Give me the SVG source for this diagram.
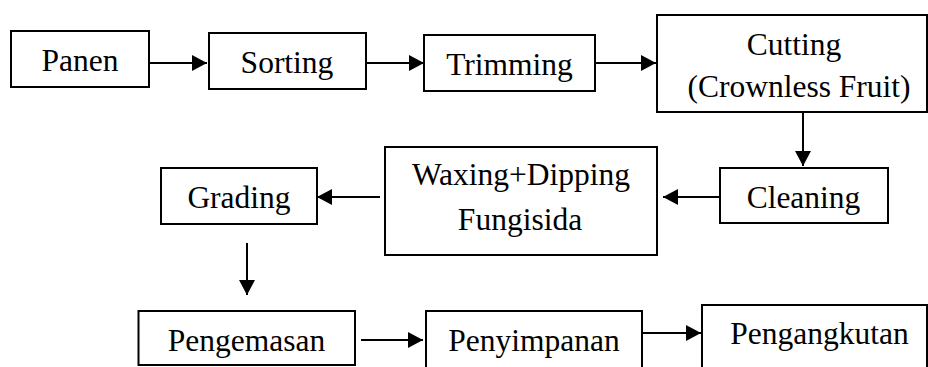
<svg xmlns="http://www.w3.org/2000/svg" width="928" height="367" viewBox="0 0 928 367">
<style>
.box{fill:#fff;stroke:#000;stroke-width:2}
.lbl{font-family:"Liberation Serif","Times New Roman",serif;font-size:31.5px;fill:#000;text-anchor:middle}
.con{stroke:#000;stroke-width:2;fill:none}
</style>
<defs>
<marker id="ah" viewBox="0 0 15 16" refX="15" refY="8" markerWidth="15" markerHeight="16" markerUnits="userSpaceOnUse" orient="auto">
<path d="M0,0 L15,8 L0,16 Z" fill="#000"/>
</marker>
</defs>
<rect width="928" height="367" fill="#fff"/>
<g id="panen"><rect class="box" x="11" y="31" width="138" height="56"/><text class="lbl" x="80" y="71">Panen</text></g>
<g id="sorting"><rect class="box" x="209" y="33" width="157" height="56"/><text class="lbl" x="287" y="73">Sorting</text></g>
<g id="trimming"><rect class="box" x="424" y="35" width="171" height="56"/><text class="lbl" x="509.5" y="75">Trimming</text></g>
<g id="cutting"><rect class="box" x="657" y="15" width="270" height="97"/><text class="lbl" x="794" y="55">Cutting</text><text class="lbl" x="799" y="97">(Crownless Fruit)</text></g>
<g id="cleaning"><rect class="box" x="720" y="168" width="168" height="55"/><text class="lbl" x="803.5" y="208">Cleaning</text></g>
<g id="waxing"><rect class="box" x="385" y="147" width="272" height="108"/><text class="lbl" x="521" y="185">Waxing+Dipping</text><text class="lbl" x="520" y="230">Fungisida</text></g>
<g id="grading"><rect class="box" x="161" y="168" width="156" height="56"/><text class="lbl" x="239" y="208">Grading</text></g>
<g id="pengemasan"><rect class="box" x="138.5" y="311" width="216.5" height="54"/><text class="lbl" x="246.5" y="351">Pengemasan</text></g>
<g id="penyimpanan"><rect class="box" x="426" y="311" width="216" height="58"/><text class="lbl" x="534" y="351">Penyimpanan</text></g>
<g id="pengangkutan"><rect class="box" x="702" y="305" width="225" height="66"/><text class="lbl" x="819.5" y="344">Pengangkutan</text></g>
<g id="connectors">
<line class="con" x1="149" y1="63" x2="207" y2="63" marker-end="url(#ah)"/>
<line class="con" x1="367" y1="63" x2="424" y2="63" marker-end="url(#ah)"/>
<line class="con" x1="595" y1="63" x2="656" y2="63" marker-end="url(#ah)"/>
<line class="con" x1="803" y1="112" x2="803" y2="166" marker-end="url(#ah)"/>
<line class="con" x1="720" y1="197" x2="663" y2="197" marker-end="url(#ah)"/>
<line class="con" x1="380" y1="197" x2="317" y2="197" marker-end="url(#ah)"/>
<line class="con" x1="247" y1="243" x2="247" y2="295" marker-end="url(#ah)"/>
<line class="con" x1="361" y1="340" x2="423" y2="340" marker-end="url(#ah)"/>
<line class="con" x1="642" y1="333" x2="701" y2="333" marker-end="url(#ah)"/>
</g>
</svg>
